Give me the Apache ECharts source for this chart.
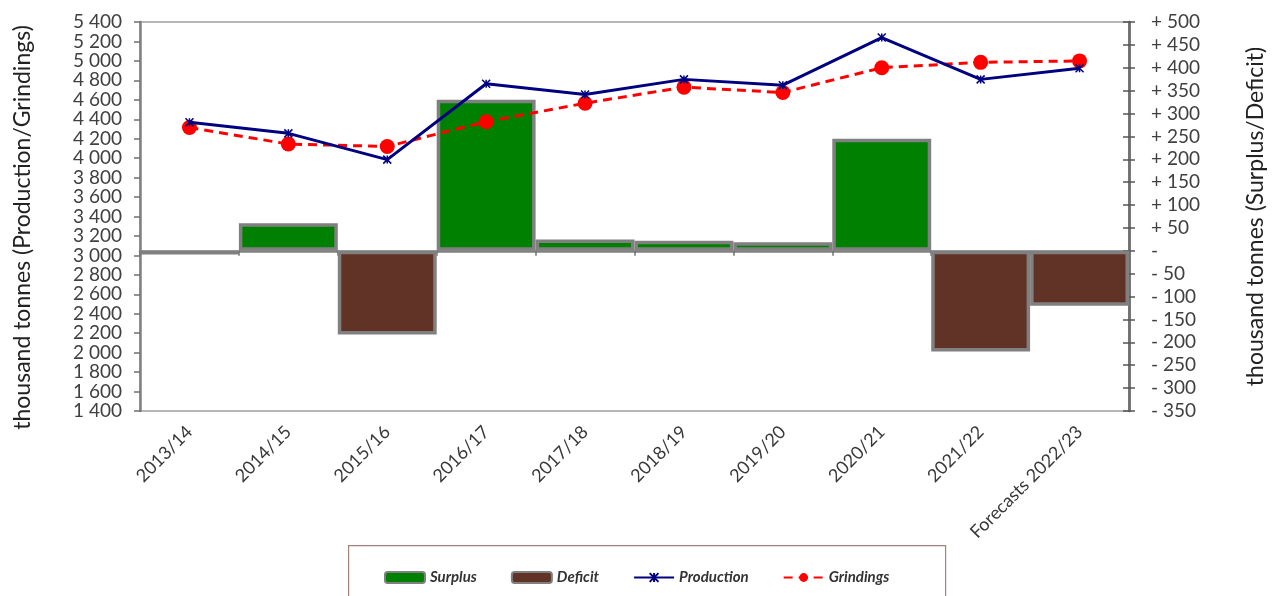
<!DOCTYPE html>
<html>
<head>
<meta charset="utf-8">
<script src="https://cdn.jsdelivr.net/npm/echarts@6/dist/echarts.min.js"></script>
<style>
html,body{margin:0;padding:0;background:#fff;}
#chart{width:1275px;height:596px;}
</style>
</head>
<body>
<div id="chart"></div>
<script>
const categories = ['2013/14','2014/15','2015/16','2016/17','2017/18','2018/19','2019/20','2020/21','2021/22','Forecasts 2022/23'];
const surplus = ['-', 60, '-', 330, 25, 22, 19, 245, '-', '-'];
const deficit = [-8, '-', -183, '-', '-', '-', '-', '-', -220, -120];
const production = [4370, 4255, 3985, 4765, 4655, 4810, 4750, 5240, 4810, 4925];
const grindings = [4315, 4145, 4120, 4375, 4565, 4730, 4675, 4930, 4985, 5000];

const FONT = 'Lato';
const chart = echarts.init(document.getElementById('chart'), null, {renderer:'canvas'});

function thou(v){
  const s = String(Math.abs(v));
  return s.length > 3 ? s.slice(0, s.length-3) + ' ' + s.slice(s.length-3) : s;
}

const rightAxisBase = {
  type:'value', position:'right', min:-350, max:500, interval:50,
  splitLine:{show:false},
  axisLine:{show:true, lineStyle:{color:'#707070', width:2.5}}
};

chart.setOption({
  animation:false,
  backgroundColor:'#ffffff',
  textStyle:{fontFamily:FONT},
  grid:{left:140, right:145, top:22, bottom:185, show:true, borderColor:'#a0a0a0', borderWidth:1.5},
  graphic:[{
    type:'rect', left:348, top:545, shape:{width:597, height:60},
    style:{fill:'#fff', stroke:'#a08478', lineWidth:1.2}, z:-1
  }],
  legend:{
    left:379, top:565, itemWidth:40, itemHeight:11, itemGap:34,
    textStyle:{fontFamily:FONT, fontStyle:'italic', fontWeight:'bold', fontSize:15, color:'#333'},
    data:['Surplus','Deficit','Production','Grindings']
  },
  xAxis:{
    type:'category', data:categories, boundaryGap:true,
    axisLine:{lineStyle:{color:'#808080', width:2.5}},
    axisTick:{show:true, length:5, lineStyle:{color:'#707070', width:1.5}},
    axisLabel:{rotate:45, fontSize:18, color:'#383838', margin:18, fontFamily:FONT}
  },
  yAxis:[{
    type:'value', min:1400, max:5400, interval:200, position:'left',
    name:'thousand tonnes (Production/Grindings)', nameLocation:'middle', nameGap:106, nameRotate:90,
    nameTextStyle:{fontSize:23, color:'#222', fontFamily:FONT, padding:[0,22,0,0]},
    splitLine:{show:false},
    axisLine:{show:true, lineStyle:{color:'#808080', width:2.5}},
    axisTick:{show:true, length:6, lineStyle:{color:'#707070', width:1.5}},
    axisLabel:{fontSize:19, color:'#404040', margin:18, formatter:v=>thou(v), fontFamily:FONT}
  },
  Object.assign({}, rightAxisBase, {
    name:'thousand tonnes (Surplus/Deficit)', nameLocation:'middle', nameGap:115, nameRotate:90,
    nameTextStyle:{fontSize:23, color:'#222', fontFamily:FONT},
    axisTick:{show:true, length:6, lineStyle:{color:'#555', width:1.5}},
    axisLabel:{fontSize:19, color:'#404040', margin:22, fontFamily:FONT,
      formatter:v=> v>0 ? '+ '+v : (v<0 ? '- '+(-v) : '-')}
  }),
  Object.assign({}, rightAxisBase, {
    axisTick:{show:true, inside:true, length:6, lineStyle:{color:'#555', width:1.5}},
    axisLabel:{show:false}
  })],
  series:[
    {name:'Surplus', type:'bar', yAxisIndex:1, stack:'sd', data:surplus, barWidth:'100%', barCategoryGap:'0%',
      itemStyle:{color:'#008000', borderColor:'#808080', borderWidth:3.5}, z:2},
    {name:'Deficit', type:'bar', yAxisIndex:1, stack:'sd', data:deficit, barWidth:'100%', barCategoryGap:'0%',
      itemStyle:{color:'#603326', borderColor:'#808080', borderWidth:3.5}, z:2},
    {name:'Production', type:'line', yAxisIndex:0, data:production, z:4,
      symbol:'path://M0,0L10,10M10,0L0,10M5,0L5,10', symbolSize:8,
      itemStyle:{color:'#000080', borderColor:'#000080', borderWidth:1.5},
      lineStyle:{color:'#000080', width:3}},
    {name:'Grindings', type:'line', yAxisIndex:0, data:grindings, z:3,
      symbol:'circle', symbolSize:15,
      itemStyle:{color:'#ff0000'},
      lineStyle:{color:'#ff0000', width:3, type:[9,6]}}
  ]
});
</script>
</body>
</html>
